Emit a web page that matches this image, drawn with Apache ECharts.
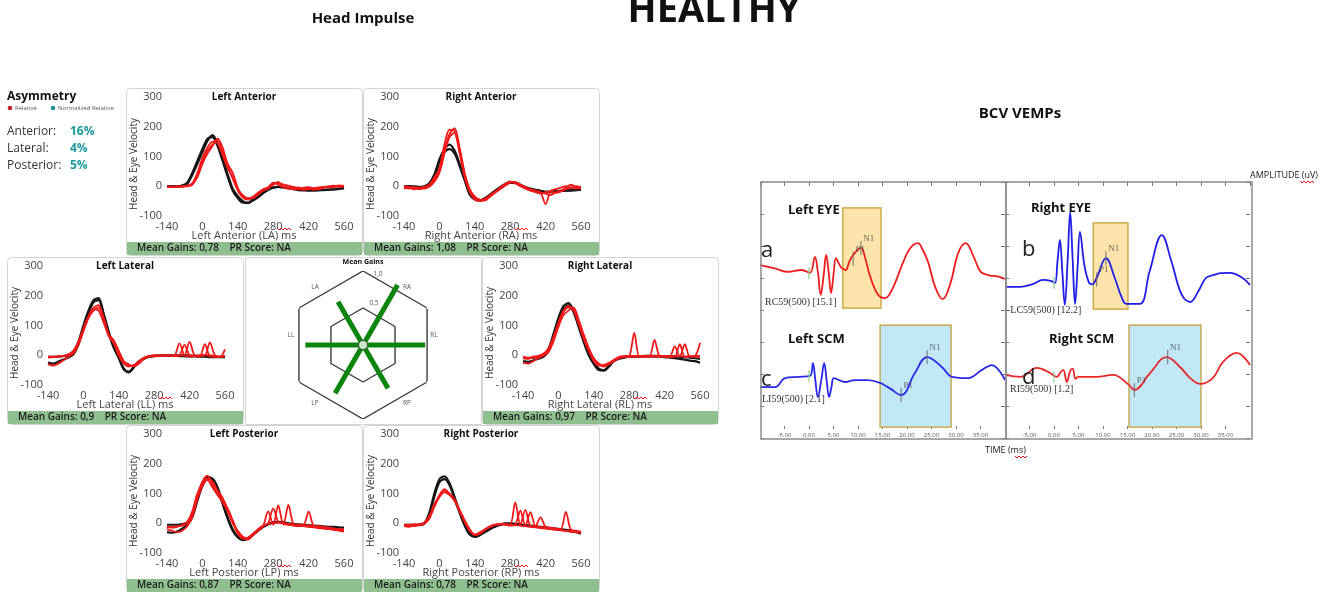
<!DOCTYPE html>
<html lang="en">
<head>
<meta charset="utf-8">
<title>Head Impulse and BCV VEMPs - Healthy</title>
<script src="https://cdn.jsdelivr.net/npm/echarts@6/dist/echarts.min.js"></script>
<style>
  html, body { margin: 0; padding: 0; background: #fff; }
  #main { width: 1324px; height: 592px; }
</style>
</head>
<body>
<div id="main"></div>
<script type="text/javascript">
// ---- head impulse: time base (ms), head (black) and eye (red) velocity traces ----
var hiTime = [-140,-120,-100,-80,-60,-40,-20,0,20,40,60,80,100,120,140,160,180,200,220,240,260,280,300,320,340,360,380,400,420,440,460,480,500,520,540,560];

var laHead = [
  [0,0,0,1,8,38,75,115,152,172,145,95,40,-8,-33,-50,-57,-48,-37,-24,-13,-5,-2,-3,-5,-8,-10,-12,-12,-12,-12,-12,-11,-10,-8,-5],
  [0,0,0,2,12,45,85,125,160,165,135,85,32,-15,-40,-55,-55,-44,-32,-20,-10,-4,-2,-4,-7,-10,-13,-14,-15,-15,-14,-13,-12,-11,-9,-7]
];
var laEye = [
  [0,-2,-3,-1,0,5,35,85,120,140,158,120,75,45,-5,-35,-42,-35,-22,-10,-3,12,5,-3,-8,-6,-4,-10,-8,-12,-6,-4,0,2,-2,0],
  [-3,-1,0,-2,2,10,45,95,130,150,145,105,60,30,-15,-38,-45,-38,-25,-12,-5,5,15,0,-5,-10,-10,-5,-3,-8,-10,-5,-2,0,3,-1],
  [0,-3,-2,0,1,8,30,75,110,135,160,130,70,25,-10,-30,-40,-40,-28,-15,-8,8,10,6,2,-2,-8,-12,-10,-6,-4,-2,-4,-3,0,2]
];
var raHead = [
  [0,0,0,-2,0,10,40,90,125,140,120,75,25,-25,-42,-47,-40,-28,-15,-3,8,14,12,5,-3,-8,-12,-15,-18,-18,-16,-15,-14,-14,-13,-12],
  [-2,0,-3,-4,-2,6,30,80,115,125,110,68,20,-28,-45,-48,-42,-30,-18,-6,5,12,10,4,-4,-10,-14,-16,-20,-20,-18,-16,-15,-14,-13,-12]
];
var raEye = [
  [-5,-8,-3,-6,-2,5,30,60,140,190,185,110,30,-20,-40,-47,-42,-30,-18,-8,5,15,12,3,-5,-10,-15,-20,-60,-15,-10,-5,0,-5,-8,-5],
  [0,-3,-10,-4,-8,0,20,50,120,175,195,130,45,-10,-35,-45,-48,-35,-22,-10,2,12,14,6,-2,-12,-18,-22,-25,-30,-20,-15,-5,5,-3,-8],
  [-8,-2,-5,-10,-5,-2,15,45,110,165,180,120,40,-15,-45,-50,-44,-32,-20,-5,8,16,10,0,-8,-15,-20,-25,-20,-18,-22,-18,-10,-5,0,-3]
];
var llHead = [
  [-5,-5,-5,-3,0,10,45,100,150,185,192,140,80,30,-5,-45,-58,-40,-22,-12,-5,-2,-1,0,0,0,0,0,-1,-2,-2,-3,-4,-5,-5,-5],
  [-25,-28,-22,-15,-8,2,35,90,140,178,185,135,75,25,-10,-48,-55,-38,-20,-10,-5,-3,-2,-2,-2,-2,-3,-3,-4,-4,-5,-5,-6,-6,-6,-6]
];
var llEye = [
  [-5,-5,-3,-2,3,10,40,85,130,160,168,125,65,48,10,-25,-35,-36,-25,-10,-3,0,-2,0,-1,0,40,0,45,0,-2,0,0,-3,-5,-2],
  [-30,-35,-28,-18,-5,5,35,80,125,150,160,125,70,50,15,-20,-30,-38,-28,-12,-5,-3,0,-2,0,-3,0,35,0,-2,-5,37,-3,-5,-6,20],
  [-8,-6,-5,-3,2,15,45,90,130,155,150,110,65,40,-2,-28,-38,-32,-20,-8,-2,-1,-3,-2,0,-2,0,0,-5,-3,0,0,43,0,-5,-3]
];
var rlHead = [
  [-10,-10,-8,-5,0,20,70,125,165,175,150,100,50,5,-25,-45,-50,-35,-18,-10,-5,-3,-3,-3,-2,-2,-2,-2,-3,-3,-4,-5,-6,-8,-10,-12],
  [-20,-22,-18,-12,-5,12,60,115,155,168,145,95,45,0,-30,-50,-52,-38,-20,-12,-8,-5,-5,-5,-4,-4,-5,-5,-6,-8,-10,-12,-15,-18,-20,-25]
];
var rlEye = [
  [-10,-12,-8,-5,2,18,55,105,145,160,155,110,60,20,-15,-30,-35,-28,-18,-8,-5,-3,75,-5,-3,-5,-4,-5,-3,-5,-4,-3,-5,-4,-3,-2],
  [-25,-28,-20,-10,-2,10,45,95,135,150,160,120,70,25,-10,-28,-38,-30,-20,-10,-6,-5,-5,-4,-5,-5,52,-3,-5,-6,30,-4,37,-5,-3,42],
  [-5,-8,-5,-2,5,22,60,110,150,165,150,105,55,15,-20,-35,-32,-25,-15,-5,-3,-2,-2,-3,-2,-3,-2,-3,-2,-3,-5,37,-5,-3,-4,-5]
];
var lpHead = [
  [-5,-5,-5,-3,2,30,85,135,155,150,120,70,20,-20,-45,-55,-50,-38,-25,-12,-3,3,5,3,0,-2,-4,-5,-6,-8,-9,-10,-12,-12,-14,-15],
  [-30,-32,-28,-18,-5,20,75,125,150,148,118,65,15,-25,-48,-57,-52,-40,-25,-12,-3,2,4,2,-2,-4,-6,-8,-10,-12,-14,-16,-18,-20,-22,-25]
];
var lpEye = [
  [-15,-12,-10,-8,0,30,90,140,160,130,100,80,50,10,-30,-50,-55,-40,-25,-10,40,-5,60,-3,-5,-8,-10,-8,-6,-10,-12,-15,-18,-20,-22,-25],
  [-10,-15,-12,-5,5,40,100,135,150,140,110,85,45,5,-35,-52,-48,-35,-20,-8,0,50,5,0,62,-2,-5,-5,40,-8,-10,-12,-15,-18,-20,-20],
  [-20,-25,-30,-25,-10,20,80,125,145,120,95,70,40,0,-25,-45,-50,-38,-22,-10,-2,0,2,0,-2,-5,-8,-10,-12,-14,-16,-18,-20,-22,-25,-28]
];
var rpHead = [
  [-5,-5,-5,-5,0,35,100,148,158,135,88,40,-5,-35,-44,-38,-28,-18,-10,-4,0,0,-2,-4,-6,-8,-10,-12,-14,-16,-18,-20,-22,-25,-28,-32],
  [-8,-8,-6,-6,-2,28,90,138,148,128,82,35,-8,-38,-46,-40,-30,-20,-12,-6,-2,-2,-4,-6,-8,-10,-12,-14,-16,-18,-20,-22,-24,-27,-30,-35]
];
var rpEye = [
  [-5,-8,-3,-5,0,20,60,95,112,100,80,45,10,-20,-38,-32,-22,-12,-6,-4,-3,-5,70,-5,45,-8,-10,-12,-15,-18,-20,-22,-25,-28,-30,-32],
  [-8,-5,-10,-3,2,25,65,90,115,98,75,42,5,-25,-40,-35,-22,-12,-5,-3,-5,-8,-5,42,-8,37,-10,20,-12,-15,-18,-20,38,-22,-25,-28],
  [-10,-12,-8,-6,-2,15,55,88,105,95,78,40,5,-25,-38,-30,-20,-10,-5,-2,-3,-5,-6,-8,-10,-12,-14,-16,-18,-20,-22,-24,-26,-28,-30,-30]
];
var hiXTicks = [-140, 560, 140];
var hiYTicks = [-100, 300, 100];

// ---- mean gains ----
var gainAxes = ['RL', 'RA', 'LA', 'LL', 'LP', 'RP'];
var gainAngles = [0, 60, 120, 180, 240, 300];
var gainValues = [0.97, 1.08, 0.78, 0.9, 0.87, 0.78];
var gainRings = [1.0, 0.5];

// ---- asymmetry ----
var asymLabels = ['Anterior:', 'Lateral:', 'Posterior:'];
var asymValues = ['16%', '4%', '5%'];

// ---- BCV VEMP traces: [time ms, amplitude uV] ----
var leftEyeTrace = [[-10,-0.6],[-7,-0.7],[-4.3,-0.81],[-1.5,-0.75],[0.2,-0.84],[1.2,-0.34],[1.8,-0.8],[2.4,-1.53],[3.0,-0.9],[3.5,-0.28],[4.0,-0.8],[4.5,-1.47],[5.0,-0.9],[5.5,-0.38],[6.1,-0.55],[6.7,-0.69],[7.5,-0.75],[8.2,-0.5],[9.0,-0.28],[10.6,-0.06],[11.5,-0.4],[12.4,-0.91],[14,-1.5],[15.5,-1.63],[17,-1.35],[19,-0.59],[20.5,-0.1],[22.2,0.09],[23.3,-0.15],[24.3,-0.5],[25.8,-1.3],[27.3,-1.66],[28.8,-1.2],[30.5,-0.2],[32,0.09],[33.5,-0.3],[35,-0.8],[36.5,-0.91],[38.5,-0.95],[40,-1.03]];
var rightEyeTrace = [[-10,-1.28],[-6.9,-1.28],[-4.5,-1.2],[-2.2,-1.06],[-0.5,-1.1],[0.2,-1.16],[0.7,-0.5],[1.2,0.19],[1.7,-0.8],[2.2,-1.84],[2.8,-0.4],[3.3,1.06],[3.8,-0.4],[4.3,-1.81],[4.8,-0.7],[5.3,0.44],[6.2,-0.6],[7.1,-1.13],[7.8,-1.2],[8.7,-1.0],[10.6,-0.38],[12.4,-1.0],[13.8,-1.6],[14.8,-1.81],[17.5,-1.81],[19.5,-0.8],[22.0,0.34],[24,-0.5],[26,-1.5],[27.8,-1.75],[29.5,-1.4],[31,-1.0],[32.5,-0.91],[34,-0.85],[35.9,-0.84],[38.5,-1.0],[40,-1.22]];
var leftScmTrace = [[-10,-0.4],[-6.9,-0.41],[-4.9,-0.13],[-2.2,-0.09],[0.2,-0.06],[0.8,0.34],[1.3,-0.2],[1.8,-0.72],[2.5,-0.2],[3.1,0.34],[3.6,-0.2],[4.1,-0.72],[4.6,-0.4],[5.1,-0.13],[7.3,-0.25],[9.4,-0.19],[12.0,-0.19],[14.5,-0.28],[16.5,-0.45],[18.8,-0.66],[21.6,0.03],[24.1,0.53],[27.1,0.22],[29.2,-0.09],[32.4,-0.13],[35.3,0.13],[37.3,0.28],[40,-0.19]];
var rightScmTrace = [[-10,-0.03],[-6.9,-0.09],[-3.5,0.19],[-1,0.05],[0.6,-0.09],[1.3,0.05],[1.9,0.13],[2.6,-0.25],[3.3,0.1],[3.8,0.16],[4.4,-0.15],[4.9,-0.09],[8.7,-0.09],[12.0,-0.03],[15.3,-0.34],[16.4,-0.5],[19.6,0.03],[23.0,0.53],[25.7,0.22],[27.8,-0.13],[29.8,-0.31],[32.4,-0.13],[34.5,0.38],[37.3,0.66],[40,0.28]];
// analysis windows: [t start, t end, amp low, amp high]
var leftEyeWindow = [6.9, 14.7, -1.94, 1.19];
var rightEyeWindow = [8.0, 15.1, -1.97, 0.72];
var leftScmWindow = [14.5, 29.0, -1.66, 1.53];
var rightScmWindow = [15.3, 30.0, -1.66, 1.53];
var leftEyePeaks = [[9.0, -0.4, 'P1'], [10.6, -0.06, 'N1']];
var rightEyePeaks = [[8.7, -1.05, 'P1'], [10.6, -0.38, 'N1']];
var leftScmPeaks = [[18.8, -0.66, 'P1'], [24.1, 0.53, 'N1']];
var rightScmPeaks = [[16.4, -0.5, 'P1'], [23.2, 0.53, 'N1']];
var stimAmp = [-0.84, -1.16, -0.06, -0.09];
var vempXTicks = [-10, 40, 5];
var vempYTicks = [-2, 2, 1];

var FF = '"Open Sans", "Noto Sans", sans-serif';
var SERIF = '"Liberation Serif", "DejaVu Serif", serif';
var chart = echarts.init(document.getElementById('main'));
var grids = [], xAxes = [], yAxes = [], series = [], els = [];

function txt(x, y, s, size, o) {
    o = o || {};
    els.push({
        type: 'text', x: x, y: y, rotation: o.rot || 0, z: 50,
        style: {
            text: s, fontSize: size, fontFamily: o.ff || FF, fontWeight: o.fw || 'normal',
            fill: o.color || '#222', align: o.align || 'left', verticalAlign: o.va || 'middle'
        }
    });
}
function squiggle(x, y, w) {
    var pts = [];
    for (var i = 0; i <= w; i += 2) pts.push([x + i, y + ((i / 2) % 2 ? 2 : 0)]);
    els.push({ type: 'polyline', z: 50, shape: { points: pts }, style: { stroke: '#e41a1a', lineWidth: 1, fill: null } });
}
function zip(t, v) { return t.map(function (x, k) { return [x, v[k]]; }); }
var noAxis = { axisLine: { show: false, onZero: false }, axisTick: { show: false }, splitLine: { show: false } };

// ---------- titles ----------
txt(363, 19, 'Head Impulse', 15, { fw: 'bold', align: 'center', color: '#111' });
txt(714, 11, 'HEALTHY', 38, { fw: 'bold', align: 'center', color: '#111' });
txt(1020, 114, 'BCV VEMPs', 15, { fw: 'bold', align: 'center', color: '#111' });

// ---------- asymmetry block ----------
txt(7, 97, 'Asymmetry', 12, { fw: 'bold', color: '#111' });
els.push({ type: 'circle', z: 50, shape: { cx: 10, cy: 108, r: 2.3 }, style: { fill: '#c8202a' } });
txt(15, 108, 'Relative', 6, { color: '#555' });
els.push({ type: 'circle', z: 50, shape: { cx: 53, cy: 108, r: 2.3 }, style: { fill: '#1a9090' } });
txt(58, 108, 'Normalized Relative', 6, { color: '#555' });
asymLabels.forEach(function (s, k) {
    txt(7, 132 + k * 17, s, 12, { color: '#333' });
    txt(70, 132 + k * 17, asymValues[k], 12, { fw: 'bold', color: '#1a9a9a' });
});

// ---------- head impulse panels ----------
var hiPanels = [
    { title: 'Left Anterior', xname: 'Left Anterior (LA) ms', gain: '0,78', left: 126, top: 88, head: laHead, eye: laEye },
    { title: 'Right Anterior', xname: 'Right Anterior (RA) ms', gain: '1,08', left: 363, top: 88, head: raHead, eye: raEye },
    { title: 'Left Lateral', xname: 'Left Lateral (LL) ms', gain: '0,9', left: 7, top: 257, head: llHead, eye: llEye },
    { title: 'Right Lateral', xname: 'Right Lateral (RL) ms', gain: '0,97', left: 482, top: 257, head: rlHead, eye: rlEye },
    { title: 'Left Posterior', xname: 'Left Posterior (LP) ms', gain: '0,87', left: 126, top: 425, head: lpHead, eye: lpEye },
    { title: 'Right Posterior', xname: 'Right Posterior (RP) ms', gain: '0,78', left: 363, top: 425, head: rpHead, eye: rpEye }
];
hiPanels.forEach(function (p, i) {
    var L = p.left, T = p.top;
    els.push({ type: 'rect', z: 0, shape: { x: L + 0.5, y: T + 0.5, width: 236, height: 167, r: 4 }, style: { fill: '#fff', stroke: '#d4d4d4', lineWidth: 1 } });
    els.push({ type: 'rect', z: 1, shape: { x: L + 1, y: T + 154, width: 235, height: 13 }, style: { fill: '#8fbf8f' } });
    txt(L + 11, T + 160.5, 'Mean Gains: ' + p.gain + '    PR Score: NA', 10, { fw: 600, color: '#1a1a1a' });
    txt(L + 118, T + 9, p.title, 10, { fw: 'bold', align: 'center', color: '#111' });
    txt(L + 8, T + 76, 'Head & Eye Velocity', 10, { rot: Math.PI / 2, align: 'center', color: '#333' });
    txt(L + 118, T + 148, p.xname, 11, { align: 'center', color: '#444' });
    squiggle(L + 151, T + 140, 14);

    grids.push({ left: L + 41, top: T + 9, width: 177, height: 119 });
    xAxes.push(Object.assign({
        gridIndex: i, type: 'value', min: hiXTicks[0], max: hiXTicks[1], interval: hiXTicks[2],
        axisLabel: { fontSize: 11, color: '#444', margin: 5, fontFamily: FF }
    }, noAxis));
    yAxes.push(Object.assign({
        gridIndex: i, type: 'value', min: hiYTicks[0], max: hiYTicks[1], interval: hiYTicks[2],
        axisLabel: { fontSize: 11, color: '#444', margin: 5, fontFamily: FF }
    }, noAxis));
    p.head.forEach(function (h) {
        series.push({ type: 'line', xAxisIndex: i, yAxisIndex: i, data: zip(hiTime, h), smooth: 0.3, showSymbol: false, silent: true, lineStyle: { color: '#161616', width: 2.2 }, z: 3 });
    });
    p.eye.forEach(function (e) {
        series.push({ type: 'line', xAxisIndex: i, yAxisIndex: i, data: zip(hiTime, e), smooth: 0.3, showSymbol: false, silent: true, lineStyle: { color: '#f01818', width: 1.8 }, z: 4 });
    });
});

// ---------- mean gains hexagon ----------
els.push({ type: 'rect', z: 0, shape: { x: 245.5, y: 257.5, width: 236, height: 167 }, style: { fill: '#fff', stroke: '#d4d4d4', lineWidth: 1 } });
txt(363, 262, 'Mean Gains', 7, { fw: 'bold', align: 'center', color: '#111' });
[['LA', 315, 287], ['RA', 407, 287], ['LL', 291, 335], ['RL', 434, 335], ['LP', 315, 403], ['RP', 407, 403], ['1,0', 378, 274], ['0,5', 374, 303]]
    .forEach(function (a) { txt(a[1], a[2], a[0], 6.5, { align: 'center', color: '#555' }); });

var hexDeg = [30, 90, 150, 210, 270, 330, 30];
var toVertex = 1 / Math.cos(Math.PI / 6);
gainRings.forEach(function (r) {
    series.push({
        type: 'line', coordinateSystem: 'polar', polarIndex: 0, silent: true, showSymbol: false, z: 2,
        data: hexDeg.map(function (a) { return [r * toVertex, a]; }),
        lineStyle: { color: '#3a3a3a', width: 1.4 }
    });
});
gainValues.forEach(function (g, k) {
    series.push({
        type: 'line', coordinateSystem: 'polar', polarIndex: 0, silent: true, showSymbol: false, z: 3,
        name: gainAxes[k], data: [[0, gainAngles[k]], [g, gainAngles[k]]],
        lineStyle: { color: '#0b850b', width: 5, cap: 'butt' }
    });
});
series.push({
    type: 'scatter', coordinateSystem: 'polar', polarIndex: 0, silent: true, z: 5,
    data: [[0, 0]], symbolSize: 9, itemStyle: { color: '#fff', borderColor: '#333', borderWidth: 1 }
});

// ---------- BCV VEMPs ----------
var vempPanels = [
    { left: 760, top: 182, trace: leftEyeTrace, color: '#ee1d1d', win: leftEyeWindow, fill: '#fde4ab', peaks: leftEyePeaks, stim: stimAmp[0], bottom: false },
    { left: 1005, top: 182, trace: rightEyeTrace, color: '#1e1ee8', win: rightEyeWindow, fill: '#fde4ab', peaks: rightEyePeaks, stim: stimAmp[1], bottom: false },
    { left: 760, top: 310, trace: leftScmTrace, color: '#2828e6', win: leftScmWindow, fill: '#c2e8f7', peaks: leftScmPeaks, stim: stimAmp[2], bottom: true },
    { left: 1005, top: 310, trace: rightScmTrace, color: '#e62828', win: rightScmWindow, fill: '#c2e8f7', peaks: rightScmPeaks, stim: stimAmp[3], bottom: true }
];
vempPanels.forEach(function (p) {
    var g = grids.length, yl = yAxes.length;
    grids.push({ left: p.left, top: p.top, width: 245, height: 128 });
    var xa = {
        gridIndex: g, type: 'value', min: vempXTicks[0], max: vempXTicks[1], interval: vempXTicks[2],
        position: p.bottom ? 'bottom' : 'top', axisLine: { show: false, onZero: false }, splitLine: { show: false }
    };
    if (p.bottom) {
        xa.offset = -12;
        xa.axisTick = { show: true, length: 3, lineStyle: { color: '#777' } };
        xa.axisLabel = {
            fontSize: 6, color: '#555', margin: 6, fontFamily: FF, showMinLabel: false, showMaxLabel: false,
            formatter: function (v) { return v.toFixed(2); }
        };
    } else {
        xa.axisTick = { show: true, inside: true, length: 4, lineStyle: { color: '#777' } };
        xa.axisLabel = { show: false };
    }
    xAxes.push(xa);
    ['left', 'right'].forEach(function (pos) {
        yAxes.push({
            gridIndex: g, type: 'value', position: pos, min: vempYTicks[0], max: vempYTicks[1], interval: vempYTicks[2],
            axisLine: { show: false, onZero: false }, splitLine: { show: false }, axisLabel: { show: false },
            axisTick: { show: true, inside: true, length: 4, lineStyle: { color: '#777' } }
        });
    });
    series.push({
        type: 'line', xAxisIndex: g, yAxisIndex: yl, data: p.trace, smooth: 0.4, showSymbol: false, silent: true, z: 3,
        lineStyle: { color: p.color, width: 1.8 },
        markArea: {
            silent: true,
            itemStyle: { color: p.fill, borderColor: '#c49a2c', borderWidth: 1.2 },
            data: [[{ xAxis: p.win[0], yAxis: p.win[3] }, { xAxis: p.win[1], yAxis: p.win[2] }]]
        }
    });
    series.push({
        type: 'scatter', xAxisIndex: g, yAxisIndex: yl, silent: true, z: 4,
        data: [[0, p.stim]], symbol: 'rect', symbolSize: [1.5, 12], itemStyle: { color: '#8fd08f' }
    });
    series.push({
        type: 'scatter', xAxisIndex: g, yAxisIndex: yl, silent: true, z: 5,
        data: p.peaks.map(function (q) { return { value: [q[0], q[1]], name: q[2] }; }),
        symbol: 'rect', symbolSize: [1.2, 14], itemStyle: { color: '#666' },
        label: { show: true, formatter: '{b}', position: [3, -7], fontSize: 9, fontFamily: SERIF, color: '#444' }
    });
});
// frames
els.push({ type: 'rect', z: 40, shape: { x: 761, y: 182, width: 245, height: 257 }, style: { fill: null, stroke: '#8c8c8c', lineWidth: 1.5 } });
els.push({ type: 'rect', z: 40, shape: { x: 1006, y: 182, width: 246, height: 257 }, style: { fill: null, stroke: '#8c8c8c', lineWidth: 1.5 } });
// panel labels
txt(788, 210, 'Left EYE', 13, { fw: 'bold', color: '#111' });
txt(1031, 208, 'Right EYE', 13, { fw: 'bold', color: '#111' });
txt(788, 339, 'Left SCM', 13, { fw: 'bold', color: '#111' });
txt(1049, 339, 'Right SCM', 13, { fw: 'bold', color: '#111' });
txt(761, 251, 'a', 22, { color: '#222' });
txt(1022, 250, 'b', 22, { color: '#222' });
txt(761, 380, 'c', 22, { color: '#222' });
txt(1022, 378, 'd', 22, { color: '#222' });
txt(765, 302, 'RC59(500) [15.1]', 10, { ff: SERIF, color: '#333' });
txt(1007, 310, '-LC59(500) [12.2]', 10, { ff: SERIF, color: '#333' });
txt(762, 399, 'LI59(500) [2.1]', 10, { ff: SERIF, color: '#333' });
txt(1010, 389, 'RI59(500) [1.2]', 10, { ff: SERIF, color: '#333' });
txt(1318, 175, 'AMPLITUDE (uV)', 9, { align: 'right', color: '#222' });
squiggle(1300, 181, 14);
txt(985, 450, 'TIME (ms)', 9, { color: '#222' });
squiggle(1015, 456, 12);

var option = {
    backgroundColor: '#fff',
    animation: false,
    grid: grids,
    xAxis: xAxes,
    yAxis: yAxes,
    polar: { center: [363, 345], radius: 74 },
    angleAxis: { polarIndex: 0, type: 'value', min: 0, max: 360, startAngle: 0, clockwise: false, show: false },
    radiusAxis: { polarIndex: 0, type: 'value', min: 0, max: toVertex, show: false },
    graphic: { elements: els },
    series: series
};
chart.setOption(option);
</script>
</body>
</html>
